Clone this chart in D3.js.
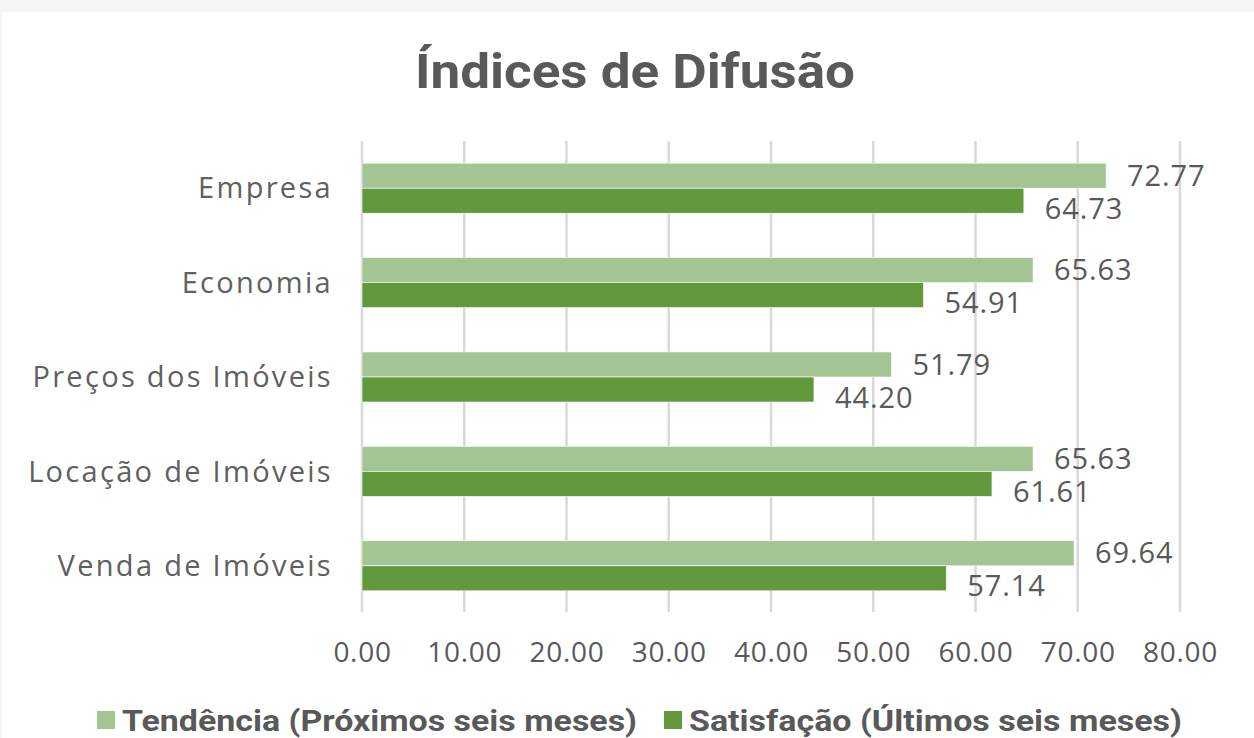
<!DOCTYPE html>
<html>
<head>
<meta charset="utf-8">
<script src="https://cdn.jsdelivr.net/npm/d3@7"></script>
<style>
  html, body { margin: 0; padding: 0; background: #f6f6f6; }
  svg { display: block; }
</style>
</head>
<body>
<div id="chart"></div>
<script>
// Chart data
var categories = ["Empresa", "Economia", "Preços dos Imóveis", "Locação de Imóveis", "Venda de Imóveis"];
var seriesNames = ["Tendência (Próximos seis meses)", "Satisfação (Últimos seis meses)"];
var tendencia = [72.77, 65.63, 51.79, 65.63, 69.64];
var satisfacao = [64.73, 54.91, 44.20, 61.61, 57.14];
var xTicks = [0, 10, 20, 30, 40, 50, 60, 70, 80];

var width = 1254, height = 738;
var colors = ["#a3c493", "#62993d"];
var textColor = "#595959";

var svg = d3.select("#chart")
    .append("svg")
    .attr("width", width)
    .attr("height", height);

// white chart area
svg.append("rect")
    .attr("x", 2).attr("y", 12)
    .attr("width", width - 2).attr("height", height - 12)
    .attr("fill", "#ffffff");

// Scales
var x = d3.scaleLinear().domain([0, 80]).range([362, 1180]);
var y = d3.scaleBand().domain(categories).range([141, 613])
    .paddingInner(0.47).paddingOuter(0.235);
var ySub = d3.scaleBand().domain(seriesNames).range([0, y.bandwidth()]);

// Title
svg.append("text")
    .attr("x", 635)
    .attr("y", 88)
    .attr("text-anchor", "middle")
    .attr("textLength", 440)
    .attr("lengthAdjust", "spacingAndGlyphs")
    .style("font-family", "Roboto, 'Liberation Sans', sans-serif")
    .style("font-weight", "bold")
    .style("font-size", "48px")
    .style("fill", textColor)
    .text("Índices de Difusão");

// Gridlines
svg.append("g")
    .selectAll("line")
    .data(xTicks)
    .enter()
    .append("line")
    .attr("x1", d => x(d)).attr("x2", d => x(d))
    .attr("y1", 141).attr("y2", 612)
    .attr("stroke", "#d9d9d9")
    .attr("stroke-width", 2.5);

// X axis tick labels
var xAxis = d3.axisBottom(x)
    .tickValues(xTicks)
    .tickSize(0)
    .tickPadding(0)
    .tickFormat(d3.format(".2f"));

var xg = svg.append("g")
    .attr("transform", "translate(0,652)")
    .call(xAxis);
xg.select(".domain").remove();
xg.selectAll("text")
    .attr("dy", "0.35em")
    .attr("y", 0)
    .style("font-family", "'Open Sans', sans-serif")
    .style("font-size", "28px")
    .style("letter-spacing", "0.7px")
    .style("fill", textColor);

// Y axis category labels
var yAxis = d3.axisLeft(y).tickSize(0).tickPadding(0);
var yg = svg.append("g")
    .attr("transform", "translate(333,0)")
    .call(yAxis);
yg.select(".domain").remove();
yg.selectAll("text")
    .attr("dy", "0.35em")
    .style("font-family", "'Open Sans', sans-serif")
    .style("font-size", "29px")
    .style("letter-spacing", "2.3px")
    .style("fill", "#606060");

// Bars
var rows = categories.map((c, i) => ({
    category: c,
    values: [
        { series: seriesNames[0], value: tendencia[i], idx: 0 },
        { series: seriesNames[1], value: satisfacao[i], idx: 1 }
    ]
}));

var groups = svg.append("g")
    .selectAll(".group")
    .data(rows)
    .enter()
    .append("g")
    .attr("class", "group")
    .attr("transform", d => "translate(0," + y(d.category) + ")");

groups.selectAll("rect")
    .data(d => d.values)
    .enter()
    .append("rect")
    .attr("x", x(0))
    .attr("y", d => ySub(d.series))
    .attr("width", d => x(d.value) - x(0))
    .attr("height", ySub.bandwidth())
    .attr("fill", d => colors[d.idx])
    .attr("stroke", "#ffffff")
    .attr("stroke-width", 0.6);

// Data labels
groups.selectAll(".label")
    .data(d => d.values)
    .enter()
    .append("text")
    .attr("class", "label")
    .attr("x", d => x(d.value) + 21)
    .attr("y", d => ySub(d.series) + ySub.bandwidth() / 2 + (d.idx === 1 ? 8 : 0))
    .attr("dy", "0.35em")
    .style("font-family", "'Open Sans', sans-serif")
    .style("font-size", "29px")
    .style("letter-spacing", "0.9px")
    .style("fill", textColor)
    .text(d => d3.format(".2f")(d.value));

// Legend
var legendX = [97, 664];
var legendTextLen = [515, 493];
var legend = svg.append("g")
    .selectAll(".legend")
    .data(seriesNames)
    .enter()
    .append("g")
    .attr("class", "legend")
    .attr("transform", (d, i) => "translate(" + legendX[i] + ",720)");

legend.append("rect")
    .attr("x", 0).attr("y", -9)
    .attr("width", 18).attr("height", 18)
    .attr("fill", (d, i) => colors[i]);

legend.append("text")
    .attr("x", 25)
    .attr("y", 0)
    .attr("dy", "0.35em")
    .attr("textLength", (d, i) => legendTextLen[i])
    .attr("lengthAdjust", "spacingAndGlyphs")
    .style("font-family", "Roboto, 'Liberation Sans', sans-serif")
    .style("font-weight", "bold")
    .style("font-size", "30px")
    .style("fill", textColor)
    .text(d => d);
</script>
</body>
</html>
